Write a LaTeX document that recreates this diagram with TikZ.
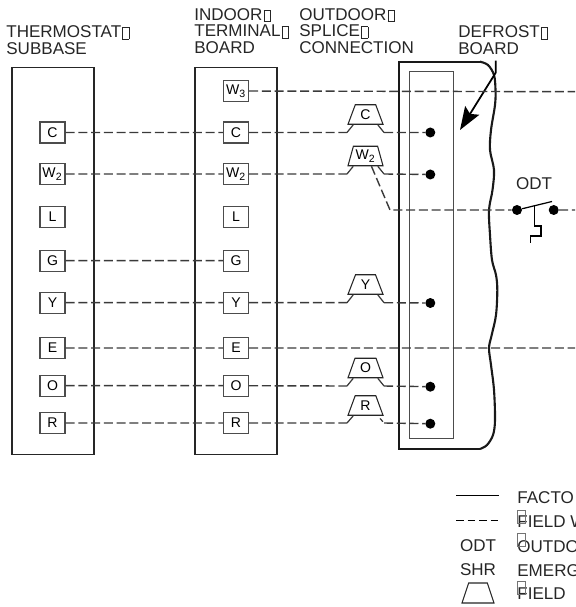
\documentclass[tikz,border=0pt]{standalone}
\usepackage{fontspec}
\setmainfont{Liberation Sans}
\usetikzlibrary{shapes.geometric,arrows.meta}
\definecolor{wirecol}{HTML}{3A3A3A}
\newcommand{\tofu}{\kern0.6pt\raisebox{-0.6pt}{\fboxsep=0pt\fboxrule=0.35pt\fbox{\rule{0pt}{6.3pt}\rule{3.4pt}{0pt}}}}
\tikzstyle{head}=[anchor=west,align=left,inner sep=0,font=\fontsize{9.7}{9.5}\selectfont,text=black!85]
\tikzstyle{legend}=[anchor=west,inner sep=0,font=\fontsize{9.7}{9.5}\selectfont,text=black!85]
\tikzstyle{tofubox}=[draw=black!55,line width=0.5pt,inner sep=0,minimum width=0.16cm,minimum height=0.26cm]
\tikzstyle{board}=[draw=black!85,line width=0.6pt,minimum width=2.3cm-0.66cm,minimum height=7.76cm]
\tikzstyle{term}=[draw=black!70,line width=0.6pt,fill=white,inner sep=0,minimum width=0.5cm,minimum height=0.42cm,font=\fontsize{8}{8}\selectfont]
\tikzstyle{splice}=[draw=black!85,line width=0.6pt,fill=white,trapezium,trapezium stretches=true,trapezium angle=70,inner sep=0,minimum width=0.7cm,minimum height=0.39cm,font=\fontsize{8}{8}\selectfont]
\tikzstyle{n}=[fill,circle,inner sep=0,minimum size=0.2cm]
\tikzstyle{wire}=[draw=wirecol,line width=0.8pt,dash pattern=on 0.18cm off 0.075cm]
\tikzstyle{tick}=[draw=wirecol,line width=0.7pt,shorten <=1pt,shorten >=2pt]

\begin{document}
\begin{tikzpicture}[x=0.02cm,y=-0.02cm]
	\clip (0,0) rectangle (575,607);

                        % headings
                        \node[head] (hA) at (6,40) {THERMOSTAT\tofu\\SUBBASE};
                        \node[head] (hB) at (194,31) {INDOOR\tofu\\TERMINAL\tofu\\BOARD};
                        \node[head] (hC) at (299,31) {OUTDOOR\tofu\\SPLICE\tofu\\CONNECTION};
                        \node[head] (hD) at (458,40) {DEFROST\tofu\\BOARD};

                        \node[board] (bA) at (53,261) {};
                        \node[board] (bB) at (236,261) {};

                        % thermostat
                        \node[term] (aC) at (52.5,132.5) {C};
                        \node[term] (aW) at (52.5,174) {W\textsubscript{2}};
                        \node[term] (aL) at (52.5,217) {L};
                        \node[term] (aG) at (52.5,260.7) {G};
                        \node[term] (aY) at (52.5,302.7) {Y};
                        \node[term] (aE) at (52.5,348) {E};
                        \node[term] (aO) at (52.5,385.7) {O};
                        \node[term] (aR) at (52.5,423) {R};

                        % indoor board
                        \node[term] (tT) at (236,91) {W\textsubscript{3}};
                        \node[term] (tC) at (236,132.5) {C};
                        \node[term] (tW) at (236,174) {W\textsubscript{2}};
                        \node[term] (tL) at (236,217) {L};
                        \node[term] (tG) at (236,260.7) {G};
                        \node[term] (tY) at (236,302.7) {Y};
                        \node[term] (tE) at (236,348) {E};
                        \node[term] (tO) at (236,385.7) {O};
                        \node[term] (tR) at (236,423) {R};

                        % defrost board
                        \draw[line width=1.2pt,black!90] plot[smooth,tension=0.55] coordinates {(480,61.7) (488,65) (494,75) (495.5,90) (495,105) (491,130) (490,150) (494,170) (492.5,190) (489,210) (490,235) (492,260) (496,275) (497.3,290) (496,315) (491.7,335) (489,348) (491,365) (494,390) (495,420) (493,435) (487,445) (480,449)};
                        \draw[line width=1.2pt,black!90] (480,61.7) -- (398.7,61.7) -- (398.7,449) -- (480,449);
                        \node[draw=black!70,line width=0.6pt,minimum width=0.88cm,minimum height=7.36cm,inner sep=0] (inner) at (431.3,255) {};

                        \coordinate (arA) at (495.7,60.7);
                        \coordinate (arB) at (495.7,72.7);
                        \coordinate (arC) at (460,130);
                        \draw[line width=1pt,-{Stealth[length=0.46cm,width=0.33cm,inset=0.08cm]}] (arA) -- (arB) -- (arC);

                        % splices
                        \node[splice] (sC) at (365.5,114.5) {C};
                        \node[splice] (sW) at (365.5,156) {W\textsubscript{2}};
                        \node[splice] (sY) at (365.5,284.5) {Y};
                        \node[splice] (sO) at (365.5,368) {O};
                        \node[splice] (sR) at (365.5,405.5) {R};

                        \node[n] (dC) at (430.3,132.5) {};
                        \node[n] (dW) at (430.3,174.5) {};
                        \node[n] (dY) at (430.3,303) {};
                        \node[n] (dO) at (430.3,386.7) {};
                        \node[n] (dR) at (430.3,423.7) {};

                        \coordinate (lC) at (347,132.5);
                        \coordinate (rC) at (384,132.5);
                        \coordinate (lW) at (347,174);
                        \coordinate (rW) at (384,174);
                        \coordinate (lY) at (347,302.7);
                        \coordinate (rY) at (384,302.7);
                        \coordinate (lO) at (347,386);
                        \coordinate (rO) at (384,386);
                        \coordinate (lR) at (347,423);
                        \coordinate (rR) at (384,423);

                        \coordinate (endT) at (575,91.7);
                        \coordinate (endE) at (575,348);
                        \coordinate (endS) at (575,210);
                        \coordinate (bend) at (390,210);

                        % odt switch
                        \node[n] (oA) at (517,210) {};
                        \node[n] (oB) at (553.7,210) {};
                        \node[inner sep=0,font=\fontsize{9.7}{9.5}\selectfont,text=black!85] (odt) at (534,184) {ODT};
                        \coordinate (swE) at (552,201.5);
                        \coordinate (swT) at (534.3,205);
                        \coordinate (swB) at (530.7,243);
                        \draw[line width=0.7pt] (oA) -- (swE);
                        \draw[line width=0.7pt] (swT) -- (534.3,226) -- (541,226) -- (541,236) -- (530.7,236) -- (swB);

                        \draw[wire]
                        (aC) -- (tC)
                        (aW) -- (tW)
                        (aG) -- (tG)
                        (aY) -- (tY)
                        (aE) -- (tE)
                        (aO) -- (tO)
                        (aR) -- (tR)
                        (tT) -- (endT)
                        (tE) -- (endE)
                        (tC) -- (lC)
                        (tW) -- (lW)
                        (tY) -- (lY)
                        (tO) -- (lO)
                        (tR) -- (lR)
                        (rC) -- (dC)
                        (rW) -- (dW)
                        (rY) -- (dY)
                        (rO) -- (dO)
                        (rR) -- (dR)
                        (sW.300) -- (bend) -- (oA)
                        (oB) -- (endS)
                        ;

                        \draw[tick]
                        (lC) -- (sC.220)
                        (rC) -- (sC.320)
                        (lW) -- (sW.220)
                        (rW) -- (sW.320)
                        (lY) -- (sY.220)
                        (rY) -- (sY.320)
                        (lO) -- (sO.220)
                        (rO) -- (sO.320)
                        (lR) -- (sR.220)
                        (rR) -- (sR.320)
                        ;

                        % legend
                        \coordinate (kA) at (456,495.5);
                        \coordinate (kB) at (499,495.5);
                        \coordinate (kC) at (456,520.7);
                        \coordinate (kD) at (499,520.7);
                        \draw[line width=0.5pt] (kA) -- (kB);
                        \draw[line width=0.7pt,dash pattern=on 0.15cm off 0.08cm] (kC) -- (kD);
                        \node[inner sep=0,font=\fontsize{9.7}{9.5}\selectfont,text=black!85] (kO) at (478,546) {ODT};
                        \node[inner sep=0,font=\fontsize{9.7}{9.5}\selectfont,text=black!85] (kS) at (478,570) {SHR};
                        \node[splice,minimum width=0.64cm,minimum height=0.4cm] (kT) at (478,593) {\phantom{C}};

                        \node[legend] (lgA) at (517,498) {FACTO};
                        \node[legend] (lgB) at (517,522) {FIELD W};
                        \node[legend] (lgC) at (517,547) {OUTDO};
                        \node[legend] (lgD) at (517,571) {EMERG};
                        \node[legend] (lgE) at (517,594) {FIELD};
                        \node[tofubox] (tfB) at (521,516.5) {};
                        \node[tofubox] (tfC) at (521,540) {};
                        \node[tofubox] (tfE) at (521,588) {};

    \end{tikzpicture}
\end{document}
